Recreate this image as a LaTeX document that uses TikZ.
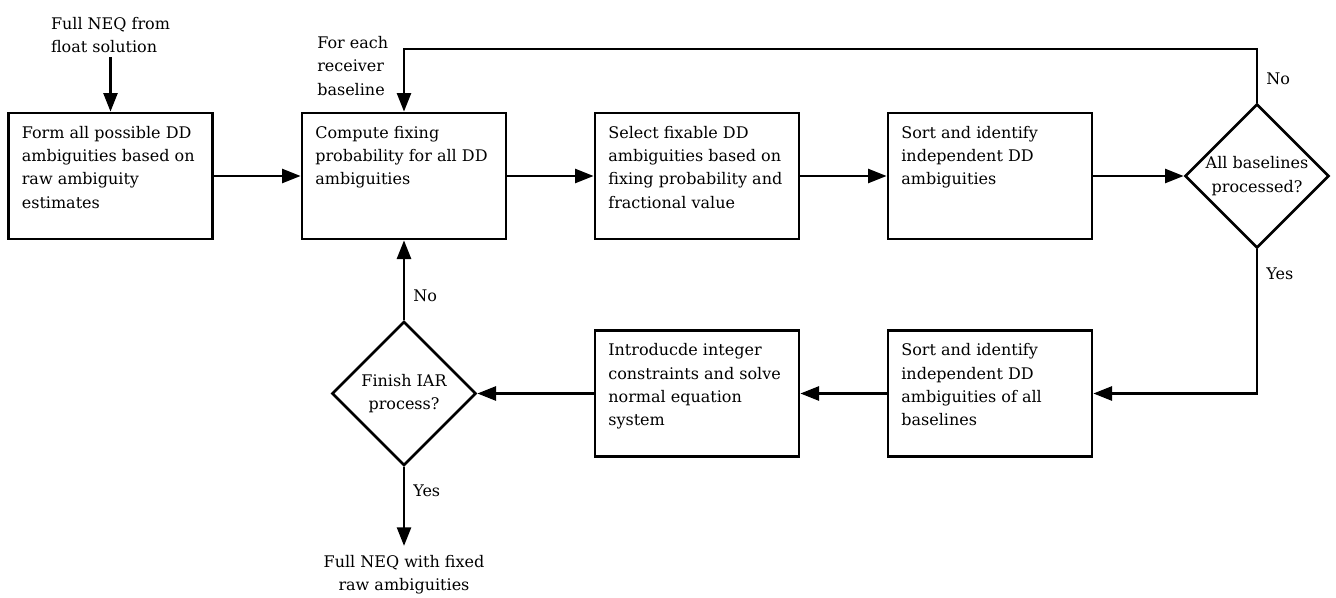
\documentclass[tikz,border=0pt]{standalone}
\usepackage{fontspec}
\setmainfont{DejaVu Serif}
\usetikzlibrary{shapes.geometric,arrows.meta}

\begin{document}
\begin{tikzpicture}[x=0.75pt,y=-0.75pt,
    every node/.style={font=\fontsize{12}{17.4}\selectfont},
    procbox/.style={shape=rectangle, draw, line width=2pt, inner sep=10pt,
      minimum width=153pt, minimum height=94.5pt,
      execute at begin node={\begin{minipage}[t][74.5pt][t]{133pt}\raggedright},
      execute at end node={\end{minipage}}},
    decision/.style={shape=diamond, draw, line width=2pt, aspect=1, inner sep=0pt,
      minimum width=108pt, minimum height=108pt, align=center},
    note/.style={inner sep=3pt},
    yesno/.style={inner sep=6pt},
    line/.style={line width=2pt, -{Triangle[length=14pt,width=10.5pt]}}]
    \useasboundingbox (0,0) rectangle (1336,597);

    % top row
    \node[note, align=left] (floatneq) at (110.5,35) {Full NEQ from\\float solution};
    \node[procbox] (formdd) at (110.5,176) {Form all possible DD\\ambiguities based on\\raw ambiguity\\estimates};
    \node[procbox] (compute) at (404,176) {Compute fixing\\probability for all DD\\ambiguities};
    \node[procbox] (selectdd) at (697,176) {Select fixable DD\\ambiguities based on\\fixing probability and\\fractional value};
    \node[procbox] (sortdd) at (990,176) {Sort and identify\\independent DD\\ambiguities};
    \node[decision] (allbl) at (1257,176) {All baselines\\processed?};
    \node[note, align=left, anchor=west] (eachbl) at (313,66) {For each\\receiver\\baseline};
    \coordinate (looptop) at (404,49);

    % bottom row
    \node[procbox] (sortall) at (990,393.5) {Sort and identify\\independent DD\\ambiguities of all\\baselines};
    \node[procbox] (intcon) at (697,393.5) {Introducde integer\\constraints and solve\\normal equation\\system};
    \node[decision] (finish) at (404,393.5) {Finish IAR\\process?};
    \node[note, inner sep=7pt, align=center] (fixneq) at (404,575) {Full NEQ with fixed\\raw ambiguities};

    \draw[line] (floatneq) -- (formdd);
    \draw[line] (formdd) -- (compute);
    \draw[line] (compute) -- (selectdd);
    \draw[line] (selectdd) -- (sortdd);
    \draw[line] (sortdd) -- (allbl);
    \draw[line] (allbl.north) -- node[yesno, right, pos=0.44] {No} (allbl.north |- looptop) -| (compute.north);
    \draw[line] (allbl.south) -- node[yesno, right, pos=0.17] {Yes} (allbl.south |- sortall) -- (sortall.east);
    \draw[line] (sortall) -- (intcon);
    \draw[line] (intcon) -- (finish);
    \draw[line] (finish) -- node[yesno, right, pos=0.3] {No} (compute);
    \draw[line] (finish) -- node[yesno, right, pos=0.3] {Yes} (fixneq);
\end{tikzpicture}
\end{document}
